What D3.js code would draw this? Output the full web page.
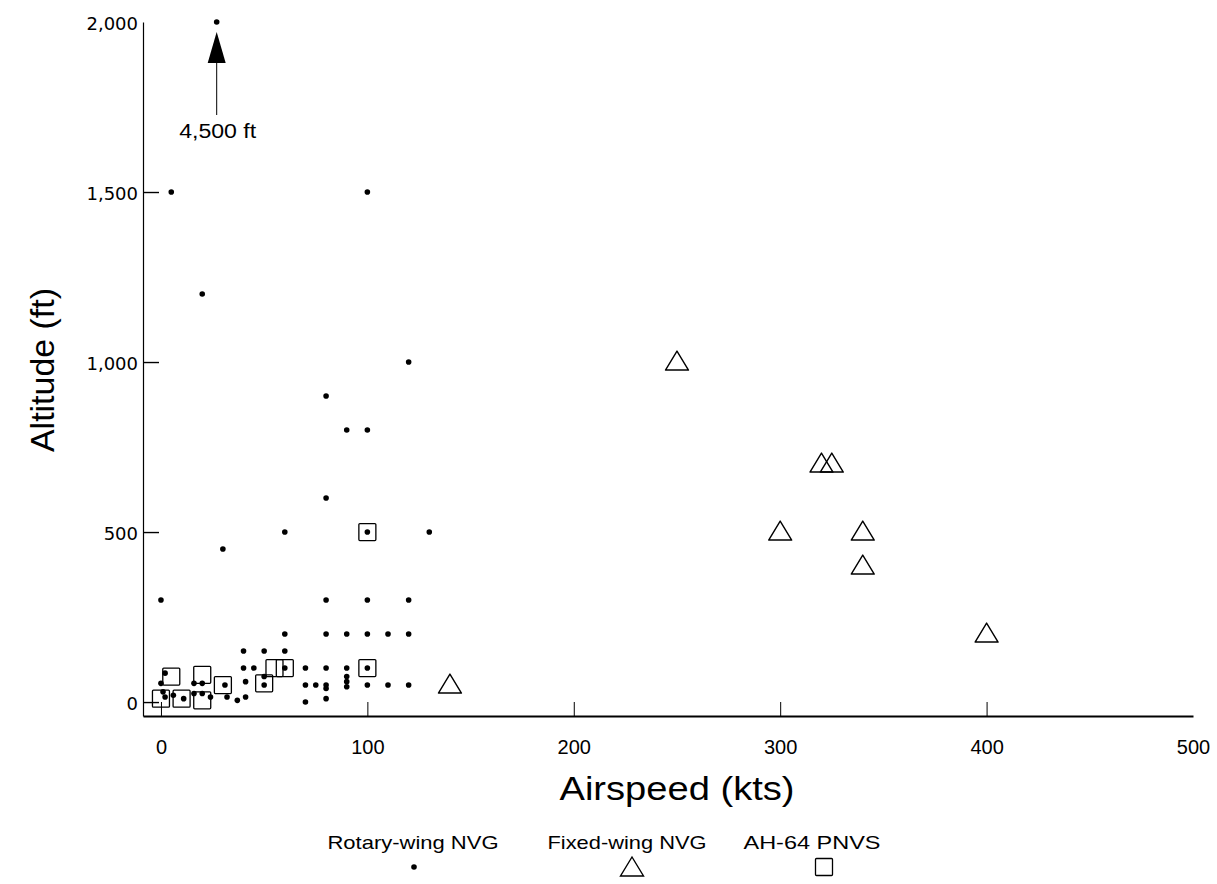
<!DOCTYPE html>
<html>
<head>
<meta charset="utf-8">
<script src="https://cdn.jsdelivr.net/npm/d3@7"></script>
<style>
  body { margin: 0; background: #fff; }
  text { fill: #000; }
</style>
</head>
<body>
<div id="chart"></div>
<script>
// chart size
var svgWidth = 1217;
var svgHeight = 884;

// Rotary-wing NVG points [airspeed kts, altitude ft]
var rotaryWing = [
  [27, 2000], [5, 1500], [20, 1200], [100, 1500], [120, 1000], [80, 900],
  [90, 800], [100, 800], [80, 600], [30, 450], [60, 500], [100, 500], [130, 500],
  [0, 300], [80, 300], [100, 300], [120, 300],
  [60, 200], [80, 200], [90, 200], [100, 200], [110, 200], [120, 200],
  [40, 150], [50, 150], [60, 150],
  [40, 100], [45, 100], [60, 100], [70, 100], [80, 100], [90, 100], [100, 100],
  [2, 85], [0, 55], [1, 30], [2, 15], [6, 20], [11, 10], [16, 55], [20, 55],
  [16, 25], [20, 25], [24, 15], [31, 50], [32, 15], [37, 5], [41, 15], [41, 60],
  [50, 75], [50, 50], [70, 50], [75, 50], [80, 50], [80, 40], [80, 10],
  [90, 75], [90, 60], [90, 45], [100, 50], [110, 50], [120, 50], [70, 0]
];

// Fixed-wing NVG points
var fixedWing = [
  [140, 50], [250, 1000], [320, 700], [325, 700], [300, 500],
  [340, 500], [340, 400], [400, 200]
];

// AH-64 PNVS points
var pnvs = [
  [0, 10], [5, 75], [10, 10], [20, 80], [20, 5], [30, 50],
  [50, 55], [55, 100], [60, 100], [100, 100], [100, 500]
];

var xTicks = [0, 100, 200, 300, 400, 500];
var yTicks = [0, 500, 1000, 1500, 2000];
var legendLabels = ["Rotary-wing NVG", "Fixed-wing NVG", "AH-64 PNVS"];
var offChartNote = "4,500 ft";

var svg = d3.select("#chart")
  .append("svg")
  .attr("width", svgWidth)
  .attr("height", svgHeight);

// scales (domain starts a little below zero so the origin sits off the axes)
var x = d3.scaleLinear().domain([-8.7, 500]).range([143, 1193]);
var y = d3.scaleLinear().domain([-41, 2000]).range([716, 22]);

// marker shapes
var triPath = "M0,-11 L11.5,8 L-11.5,8 Z";
var sq = 17;

// x axis
var xAxis = svg.append("g")
  .attr("transform", "translate(0,716)")
  .call(d3.axisBottom(x).tickValues(xTicks).tickSizeInner(-14).tickSizeOuter(0).tickPadding(24));
xAxis.select(".domain").attr("stroke-width", 1.8);
xAxis.selectAll(".tick text")
  .attr("font-family", "Liberation Sans, Arial, sans-serif")
  .attr("font-size", 20);
xAxis.selectAll(".tick").filter(d => d === 500).select("line").remove();

// y axis
var yAxis = svg.append("g")
  .attr("transform", "translate(143,0)")
  .call(d3.axisLeft(y).tickValues(yTicks).tickFormat(d3.format(",")).tickSizeInner(-16).tickSizeOuter(0).tickPadding(5));
yAxis.select(".domain").attr("stroke-width", 1.2);
yAxis.selectAll(".tick line").attr("stroke-width", 1.4);
yAxis.selectAll(".tick text")
  .attr("font-family", "DejaVu Sans, sans-serif")
  .attr("font-size", 18)
  .attr("dy", "0.42em");
yAxis.selectAll(".tick").filter(d => d === 2000).select("line").remove();

// axis titles
svg.append("text")
  .attr("x", 677)
  .attr("y", 800)
  .attr("text-anchor", "middle")
  .attr("font-family", "Liberation Sans, Arial, sans-serif")
  .attr("font-size", 33)
  .attr("textLength", 235)
  .attr("lengthAdjust", "spacingAndGlyphs")
  .text("Airspeed (kts)");

svg.append("text")
  .attr("transform", "translate(54,370) rotate(-90)")
  .attr("text-anchor", "middle")
  .attr("font-family", "Liberation Sans, Arial, sans-serif")
  .attr("font-size", 33)
  .attr("textLength", 164)
  .attr("lengthAdjust", "spacingAndGlyphs")
  .text("Altitude (ft)");

// rotary-wing dots
svg.append("g").selectAll("circle")
  .data(rotaryWing)
  .enter()
  .append("circle")
  .attr("cx", d => x(d[0]))
  .attr("cy", d => y(d[1]))
  .attr("r", 2.8)
  .attr("fill", "#000");

// AH-64 squares
svg.append("g").selectAll("rect")
  .data(pnvs)
  .enter()
  .append("rect")
  .attr("x", d => x(d[0]) - sq / 2)
  .attr("y", d => y(d[1]) - sq / 2)
  .attr("width", sq)
  .attr("height", sq)
  .attr("rx", 1)
  .attr("fill", "none")
  .attr("stroke", "#000")
  .attr("stroke-width", 1.3);

// fixed-wing triangles
svg.append("g").selectAll("path")
  .data(fixedWing)
  .enter()
  .append("path")
  .attr("transform", d => `translate(${x(d[0])},${y(d[1])})`)
  .attr("d", triPath)
  .attr("fill", "none")
  .attr("stroke", "#000")
  .attr("stroke-width", 1.4)
  .attr("stroke-linejoin", "round");

// off-chart arrow for the 4,500 ft point
var ax = x(rotaryWing[0][0]);
var ay = y(rotaryWing[0][1]);
svg.append("path")
  .attr("d", `M${ax},${ay + 10} L${ax + 9},${ay + 41} L${ax - 9},${ay + 41} Z`)
  .attr("fill", "#000");
svg.append("line")
  .attr("x1", ax).attr("x2", ax)
  .attr("y1", ay + 41).attr("y2", ay + 93)
  .attr("stroke", "#000")
  .attr("stroke-width", 1);
svg.append("text")
  .attr("x", ax + 1)
  .attr("y", ay + 116)
  .attr("text-anchor", "middle")
  .attr("font-family", "Liberation Sans, Arial, sans-serif")
  .attr("font-size", 20)
  .attr("textLength", 77)
  .attr("lengthAdjust", "spacingAndGlyphs")
  .text(offChartNote);

// legend
var legendX = [413, 627, 812];
var legendW = [171, 159, 137];
var legend = svg.append("g");
legendLabels.forEach(function (lab, i) {
  legend.append("text")
    .attr("x", legendX[i])
    .attr("y", 849)
    .attr("text-anchor", "middle")
    .attr("font-family", "Liberation Sans, Arial, sans-serif")
    .attr("font-size", 19)
    .attr("textLength", legendW[i])
    .attr("lengthAdjust", "spacingAndGlyphs")
    .text(lab);
});
legend.append("circle")
  .attr("cx", 414).attr("cy", 867).attr("r", 2.8).attr("fill", "#000");
legend.append("path")
  .attr("transform", "translate(632,868)")
  .attr("d", triPath)
  .attr("fill", "none")
  .attr("stroke", "#000")
  .attr("stroke-width", 1.4);
legend.append("rect")
  .attr("x", 824 - sq / 2).attr("y", 867 - sq / 2)
  .attr("width", sq).attr("height", sq)
  .attr("rx", 1)
  .attr("fill", "none")
  .attr("stroke", "#000")
  .attr("stroke-width", 1.3);
</script>
</body>
</html>
